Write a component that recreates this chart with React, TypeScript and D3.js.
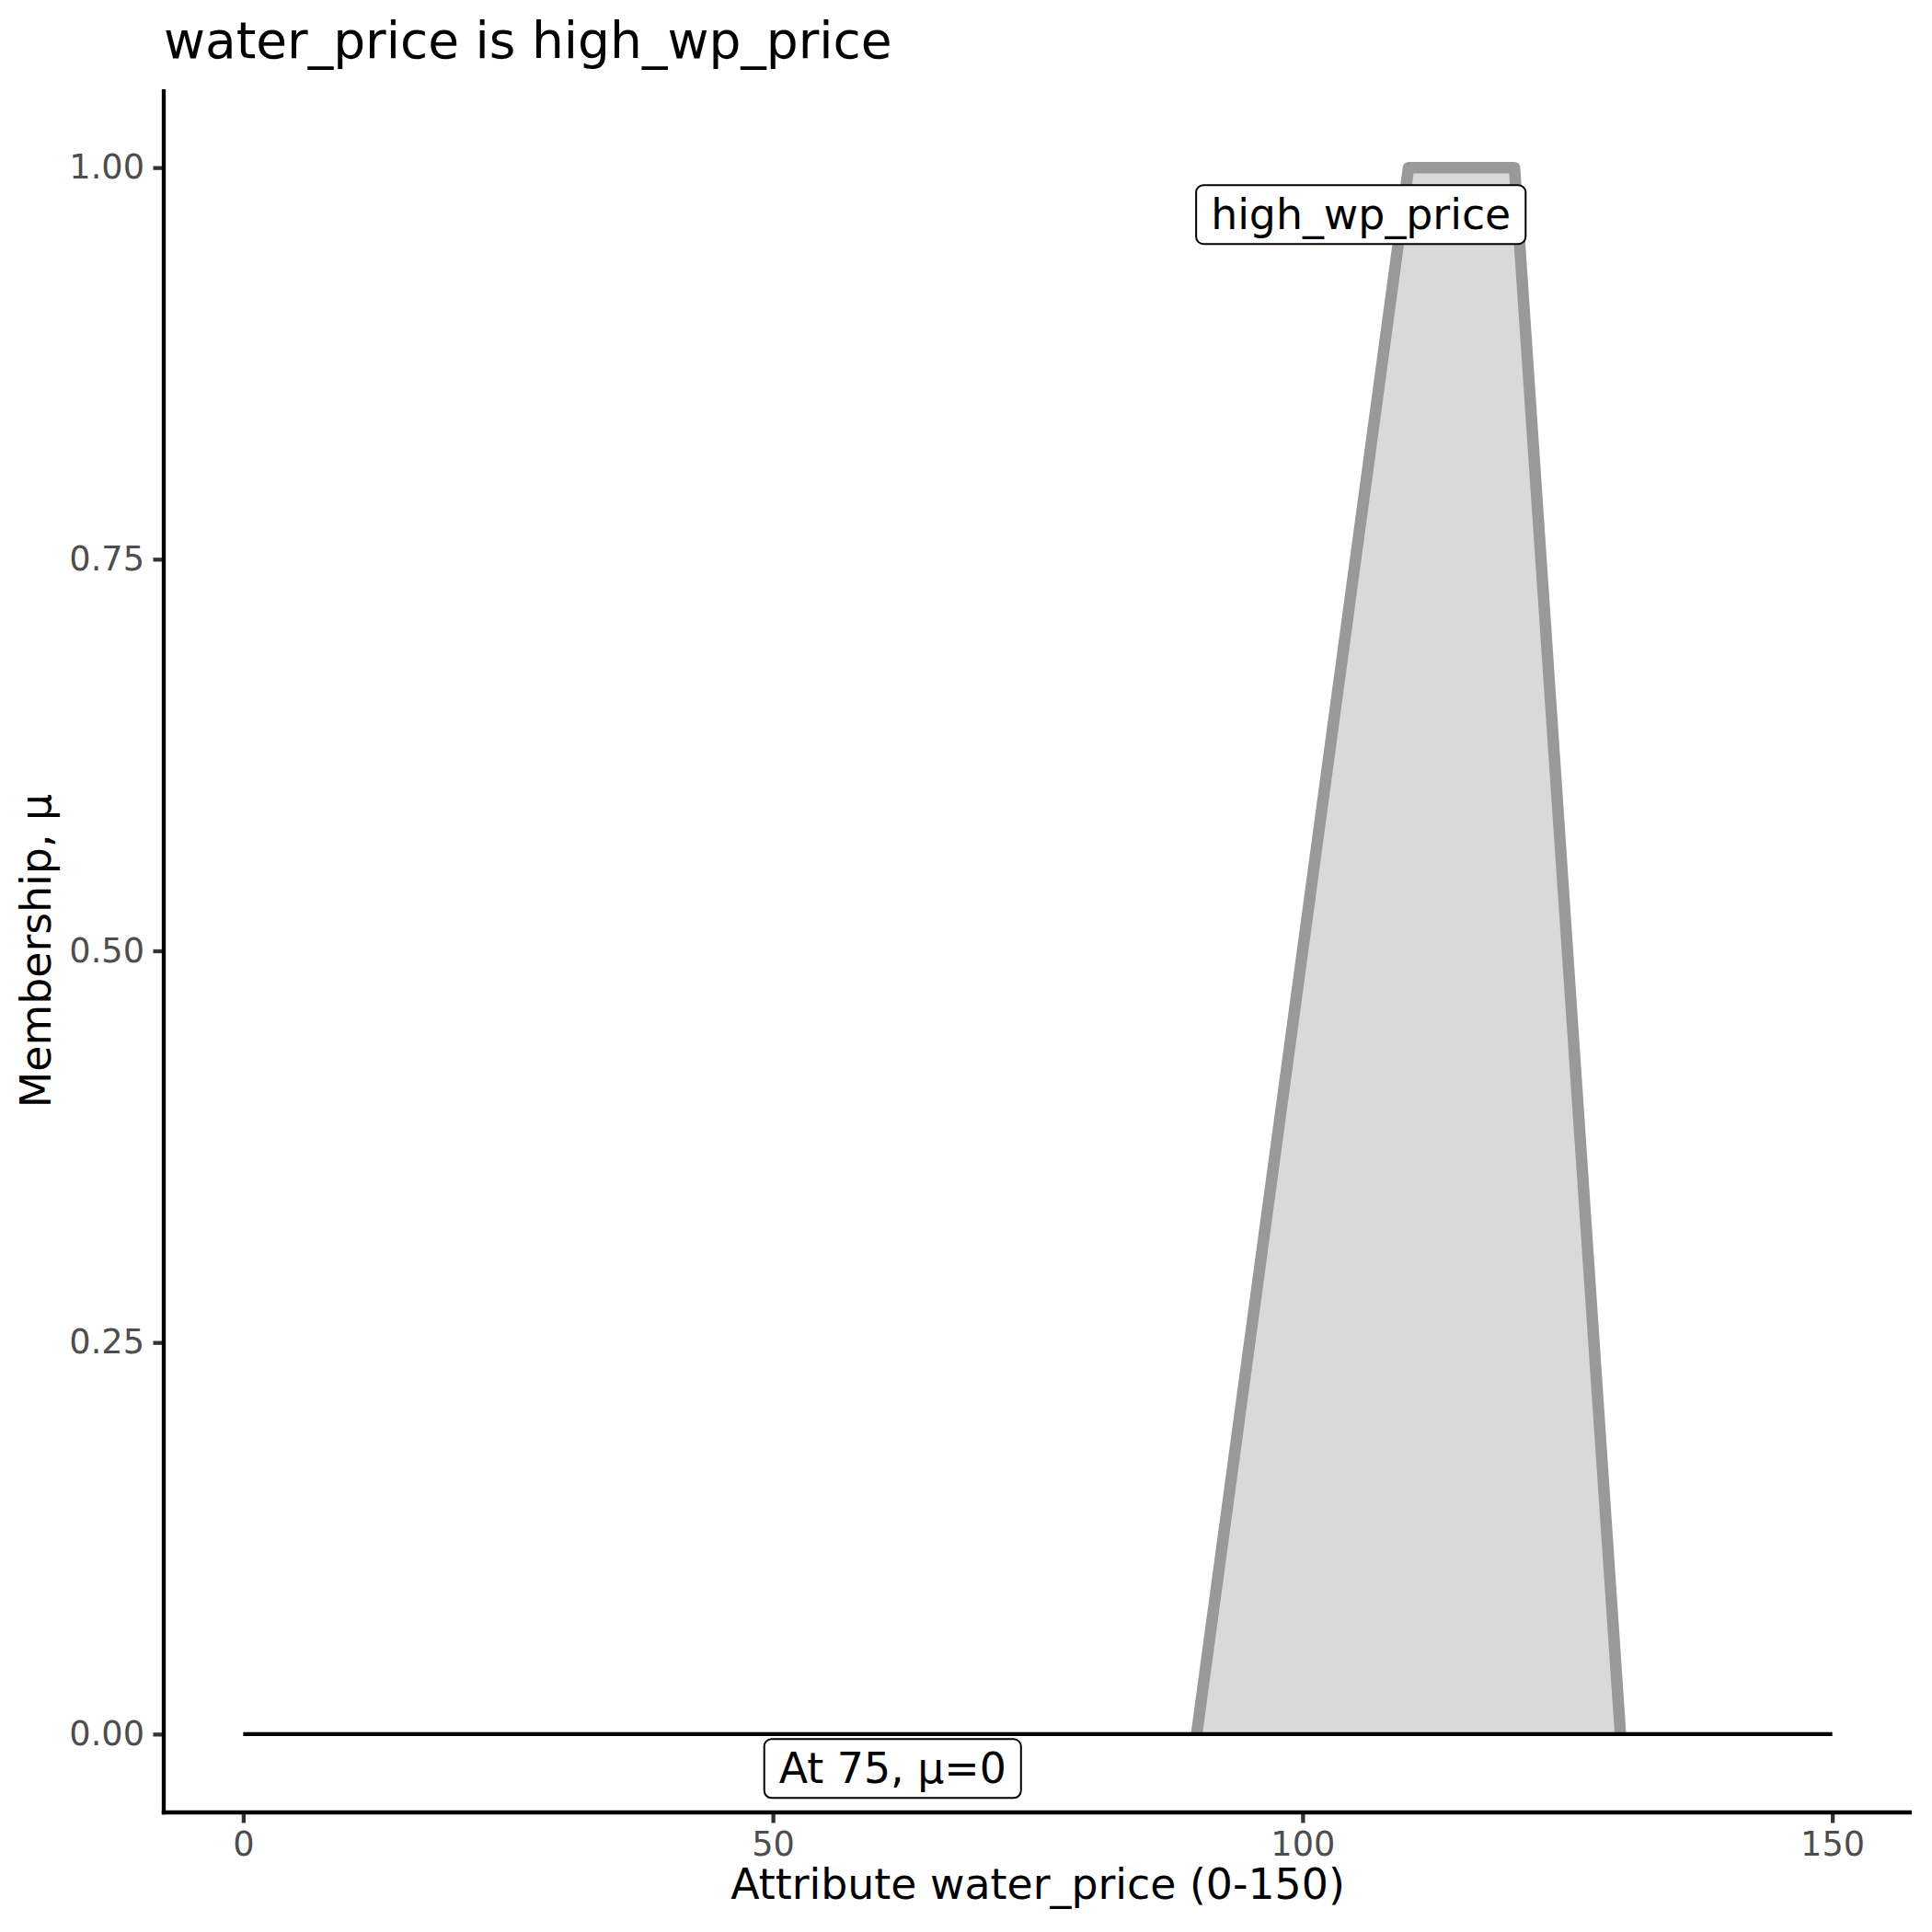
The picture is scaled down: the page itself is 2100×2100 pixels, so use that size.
import React, { useRef, useEffect } from 'react'
import * as d3 from 'd3'

// membership function of high_wp_price
const memX = [90, 110, 120, 130]
const memMu = [0, 1, 1, 0]

// horizontal line for the evaluated point
const evalX = [0, 150]
const evalMu = [0, 0]

const xTicks = [0, 50, 100, 150]
const yTicks = [0, 0.25, 0.5, 0.75, 1]

const labelText = ['high_wp_price', 'At 75, μ=0']
const labelX = [105.5, 61.3]
const labelMu = [0.97, -0.022]

const title = 'water_price is high_wp_price'
const xTitle = 'Attribute water_price (0-150)'
const yTitle = 'Membership, μ'

export default function App() {
    const svgRef = useRef(null)

    const W = 2100
    const H = 2100
    const left = 178
    const right = 2078
    const top = 97
    const bottom = 1970
    const font = 'DejaVu Sans'

    useEffect(() => {
        document.body.style.margin = '0'
        const svg = d3.select(svgRef.current)
        svg.selectAll('*').remove()

        const x = d3.scaleLinear().domain([-7.5, 157.5]).range([left, right])
        const y = d3.scaleLinear().domain([-0.05, 1.05]).range([bottom, top])

        const pts = memX.map((v, i) => [v, memMu[i]])

        // filled area
        const area = d3.area()
            .x(d => x(d[0]))
            .y0(y(0))
            .y1(d => y(d[1]))
        svg.append('path')
            .datum(pts)
            .attr('d', area)
            .attr('fill', '#d9d9d9')

        // outline
        const line = d3.line()
            .x(d => x(d[0]))
            .y(d => y(d[1]))
        svg.append('path')
            .datum(pts)
            .attr('d', line)
            .attr('fill', 'none')
            .attr('stroke', '#999999')
            .attr('stroke-width', 12.5)
            .attr('stroke-linejoin', 'round')

        // black line at mu=0
        svg.append('path')
            .datum(evalX.map((v, i) => [v, evalMu[i]]))
            .attr('d', line)
            .attr('fill', 'none')
            .attr('stroke', '#000')
            .attr('stroke-width', 4.3)

        // labels
        labelText.forEach((t, i) => {
            const g = svg.append('g')
            const cx = x(labelX[i])
            const cy = y(labelMu[i])
            const txt = g.append('text')
                .attr('x', cx)
                .attr('y', cy + 16)
                .attr('text-anchor', 'middle')
                .attr('font-family', font)
                .attr('font-size', 45.8)
                .attr('fill', '#000')
                .text(t)
            const tw = (txt.node() as any).getComputedTextLength()
            const bw = tw + 32
            g.insert('rect', 'text')
                .attr('x', cx - bw / 2)
                .attr('y', cy - 32)
                .attr('width', bw)
                .attr('height', 64)
                .attr('rx', 8)
                .attr('fill', '#fff')
                .attr('stroke', '#000')
                .attr('stroke-width', 2)
        })

        // axes
        const xAxis = d3.axisBottom(x).tickValues(xTicks).tickSize(11.5).tickPadding(9.5)
            .tickFormat(d => String(d))
        const xg = svg.append('g').attr('transform', `translate(0, ${bottom})`).call(xAxis)
        xg.select('.domain').remove()
        xg.selectAll('.tick line').attr('stroke', '#333333').attr('stroke-width', 4.3)
        xg.selectAll('.tick text')
            .attr('font-family', font).attr('font-size', 36.7).attr('fill', '#4d4d4d')

        const yAxis = d3.axisLeft(y).tickValues(yTicks).tickSize(11.5).tickPadding(9.5)
            .tickFormat(d3.format('.2f'))
        const yg = svg.append('g').attr('transform', `translate(${left}, 0)`).call(yAxis)
        yg.select('.domain').remove()
        yg.selectAll('.tick line').attr('stroke', '#333333').attr('stroke-width', 4.3)
        yg.selectAll('.tick text')
            .attr('font-family', font).attr('font-size', 36.7).attr('fill', '#4d4d4d')

        svg.append('line')
            .attr('x1', left).attr('x2', left).attr('y1', top).attr('y2', bottom + 2.2)
            .attr('stroke', '#000').attr('stroke-width', 4.3)
        svg.append('line')
            .attr('x1', left - 2.2).attr('x2', right).attr('y1', bottom).attr('y2', bottom)
            .attr('stroke', '#000').attr('stroke-width', 4.3)

        // titles
        svg.append('text')
            .attr('x', left).attr('y', 63)
            .attr('font-family', font).attr('font-size', 55)
            .text(title)
        svg.append('text')
            .attr('x', (left + right) / 2).attr('y', 2064)
            .attr('text-anchor', 'middle')
            .attr('font-family', font).attr('font-size', 45.8)
            .text(xTitle)
        svg.append('text')
            .attr('transform', `translate(55, ${(top + bottom) / 2}) rotate(-90)`)
            .attr('text-anchor', 'middle')
            .attr('font-family', font).attr('font-size', 45.8)
            .text(yTitle)
    }, [])

    return (
        <svg ref={svgRef} width={W} height={H} style={{ display: 'block', background: '#fff' }}></svg>
    )
}
